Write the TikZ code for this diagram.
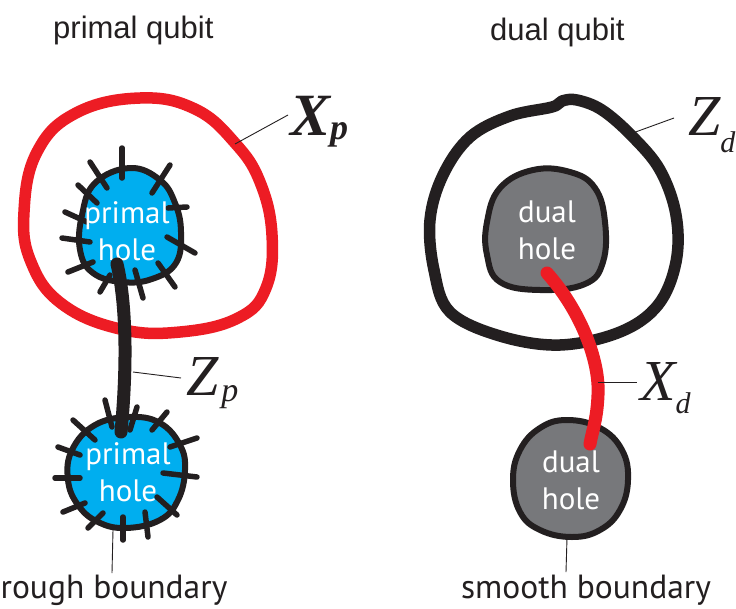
\documentclass[tikz,border=0pt]{standalone}
\usepackage{fontspec}
\setmainfont{PT Sans}
\newfontfamily\arialf{Liberation Sans}
\newfontfamily\tms{Liberation Serif}
\definecolor{holeblue}{HTML}{00AEEF}
\definecolor{holegrey}{HTML}{77787B}
\definecolor{qred}{HTML}{ED1C24}
\definecolor{qblack}{HTML}{231F20}
\begin{document}
\begin{tikzpicture}[x=1pt,y=-1pt,
  loopline/.style={line width=11.5pt, line join=round},
  holeline/.style={line width=6pt, draw=qblack, line join=round},
  hairtick/.style={line width=5.5pt, draw=qblack, line cap=round},
  leader/.style={line width=0.9pt, draw=qblack},
  stringline/.style={line width=13pt, line cap=round},
  holetext/.style={text=white, align=center, font=\fontsize{31}{37}\selectfont, inner sep=0pt},
  title/.style={anchor=base west, inner sep=0pt, font=\arialf\fontsize{31}{31}\selectfont, text=qblack},
  bottomlabel/.style={anchor=base, inner sep=0pt, font=\fontsize{33.5}{33.5}\selectfont, text=qblack},
  mathlabel/.style={anchor=base west, inner sep=0pt, text=qblack}
]
\useasboundingbox (0,0) rectangle (736,608);
\fill[white] (0,0) rectangle (736,608);

% titles
\node[title] (t1) at (53,38) {primal qubit};
\node[title] (t2) at (490,40) {dual qubit};

% ---------- primal side ----------
% red X_p loop
\draw[loopline, draw=qred] plot[smooth cycle, tension=0.7] coordinates {
 (140,98) (195,109) (235,143) (260,182) (272,235) (266,288) (238,318)
 (180,332) (120,329) (62,304) (31,262) (24,212) (37,152) (76,113)};

% upper primal hole
\filldraw[holeline, fill=holeblue] plot[smooth cycle, tension=0.7] coordinates {
 (130,168) (160,180) (175,203) (181,232) (176,263) (152,279) (122,282)
 (93,273) (80,250) (82,215) (95,183)};
\foreach \a/\b in {{(122,148)}/{(122,178)}, {(90,162)}/{(107,188)}, {(170,165)}/{(152,193)},
  {(78,185)}/{(97,203)}, {(65,212)}/{(87,222)}, {(62,238)}/{(90,242)}, {(68,272)}/{(93,262)},
  {(100,292)}/{(110,275)}, {(143,298)}/{(135,270)}, {(175,287)}/{(158,263)},
  {(195,253)}/{(167,237)}, {(187,207)}/{(168,208)}}
  \draw[hairtick] \a -- \b;
\node[holetext] (ph1) at (127,231) {primal\\hole};

% lower primal hole
\filldraw[holeline, fill=holeblue] plot[smooth cycle, tension=0.7] coordinates {
 (130,417) (160,423) (180,445) (185,470) (178,500) (160,520) (126,528)
 (98,522) (78,505) (68,480) (72,450) (95,425)};
\foreach \a/\b in {{(105,400)}/{(112,427)}, {(137,407)}/{(130,430)}, {(167,412)}/{(152,430)},
  {(73,420)}/{(95,440)}, {(58,447)}/{(80,455)}, {(197,438)}/{(170,447)}, {(55,478)}/{(80,478)},
  {(197,477)}/{(163,473)}, {(63,512)}/{(85,503)}, {(177,515)}/{(157,497)},
  {(88,528)}/{(103,513)}, {(123,540)}/{(123,517)}, {(148,537)}/{(145,512)}}
  \draw[hairtick] \a -- \b;
\node[holetext] (ph2) at (128,472) {primal\\hole};

% black Z_p string
\coordinate (zps) at (117,264);
\coordinate (zpe) at (121,432);
\draw[stringline, draw=qblack] (zps) .. controls (128,310) and (126,380) .. (zpe);

% labels primal
\node[mathlabel] (Xp) at (290,135) {\tms\fontsize{60}{60}\selectfont\bfseries\itshape X\raisebox{-4pt}{\fontsize{36}{36}\selectfont p}};
\coordinate (xpa) at (235,144);
\coordinate (xpb) at (288,115);
\draw[leader] (xpa) -- (xpb);

\node[mathlabel] (Zp) at (186,395) {\tms\fontsize{58}{58}\selectfont\itshape Z\hspace{3pt}\raisebox{-6pt}{\fontsize{34}{34}\selectfont p}};
\coordinate (zpa) at (133,372);
\coordinate (zpb) at (181,378);
\draw[leader] (zpa) -- (zpb);

\coordinate (rba) at (113,530);
\coordinate (rbb) at (112,573);
\draw[leader] (rba) -- (rbb);
\node[bottomlabel] (rb) at (114,598) {rough boundary};

% ---------- dual side ----------
% black Z_d loop
\draw[loopline, draw=qblack] plot[smooth cycle, tension=0.6] coordinates {
 (470,137) (510,116) (552,107) (562,101) (577,100) (602,110) (632,136)
 (660,170) (676,215) (676,262) (658,305) (620,332) (560,345) (500,336)
 (450,312) (434,270) (430,220) (443,175)};

% upper dual hole
\filldraw[holeline, fill=holegrey] plot[smooth cycle, tension=0.7] coordinates {
 (533,170) (570,172) (595,188) (605,222) (603,262) (585,284) (540,290)
 (500,282) (487,255) (487,222) (500,188)};
\node[holetext] (dh1) at (547,230) {dual\\hole};

% lower dual hole
\filldraw[holeline, fill=holegrey] plot[smooth cycle, tension=0.7] coordinates {
 (567,420) (600,428) (622,450) (628,480) (620,510) (600,530) (572,537)
 (540,530) (520,512) (513,480) (520,450) (540,428)};
\node[holetext] (dh2) at (571,480) {dual\\hole};

% red X_d string
\coordinate (xds) at (547,273);
\coordinate (xde) at (590,444);
\draw[stringline, draw=qred] (xds) .. controls (580,310) and (600,360) .. (598,395) .. controls (597,420) and (592,432) .. (xde);

% labels dual
\node[mathlabel] (Zd) at (688,135) {\tms\fontsize{58}{58}\selectfont\itshape Z\raisebox{-17pt}{\fontsize{30}{30}\selectfont d}};
\coordinate (zda) at (630,134);
\coordinate (zdb) at (674,118);
\draw[leader] (zda) -- (zdb);

\node[mathlabel] (Xd) at (640,400) {\tms\fontsize{58}{58}\selectfont\itshape X\raisebox{-13pt}{\fontsize{30}{30}\selectfont d}};
\coordinate (xda) at (598,382);
\coordinate (xdb) at (637,382);
\draw[leader] (xda) -- (xdb);

\coordinate (sba) at (567,538);
\coordinate (sbb) at (566,572);
\draw[leader] (sba) -- (sbb);
\node[bottomlabel] (sb) at (586,598) {smooth boundary};
\end{tikzpicture}
\end{document}
